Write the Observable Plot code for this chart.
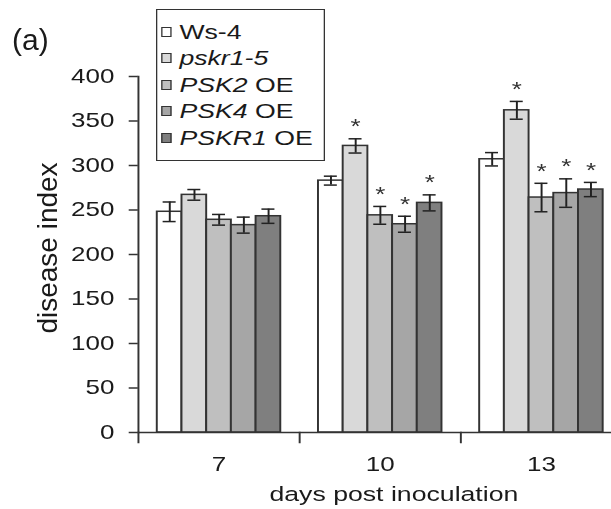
<!DOCTYPE html>
<html>
<head>
<meta charset="utf-8">
<script src="https://cdn.jsdelivr.net/npm/d3@7"></script>
<script src="https://cdn.jsdelivr.net/npm/@observablehq/plot@0.6"></script>
<style>
  html, body { margin: 0; padding: 0; background: #fff; overflow: hidden; }
  #wrap { position: relative; width: 611px; height: 509px; overflow: hidden; background: #fff;
          font-family: "Liberation Sans", Arial, sans-serif; color: #1a1a1a; }
  #fig { position: absolute; left: 0; top: 0; width: 478px; height: 509px; transform: scaleX(1.3); transform-origin: 0 0; }
  #fig svg { position: absolute; left: 0; top: 0; overflow: visible; }
  .lbl { position: absolute; white-space: nowrap; font-size: 20.5px; line-height: 20px; }
  #legend { position: absolute; left: 120px; top: 9px; width: 130px; height: 152px; box-sizing: border-box;
            border: 1.5px solid #333; background: #fff; padding: 8.8px 0 0 3px; font-size: 20.5px; }
  .item { display: flex; align-items: center; height: 26.4px; }
  .sw { width: 8.4px; height: 10px; box-sizing: border-box; border: 1.5px solid #333; margin-right: 5.6px; flex: none; }
</style>
</head>
<body>
<div id="wrap"><div id="fig"></div></div>
<script>
const days = ["7", "10", "13"];
const series = ["Ws-4", "pskr1-5", "PSK2 OE", "PSK4 OE", "PSKR1 OE"];
const legendItalic = ["", "pskr1-5", "PSK2", "PSK4", "PSKR1"];
const legendPlain = ["Ws-4", "", " OE", " OE", " OE"];
const colors = ["#ffffff", "#d9d9d9", "#bfbfbf", "#a6a6a6", "#7f7f7f"];

const mean7 = [248, 267, 239, 233, 243];
const mean10 = [283, 322, 244, 234, 258];
const mean13 = [307, 362, 264, 269, 273];
const err7 = [11, 6, 6, 9, 8];
const err10 = [5, 8, 10, 9, 9];
const err13 = [7.5, 10, 16, 16, 8];
const sig7 = [false, false, false, false, false];
const sig10 = [false, true, true, true, true];
const sig13 = [false, true, true, true, true];
const yTicks = [0, 50, 100, 150, 200, 250, 300, 350, 400];

const means = [mean7, mean10, mean13];
const errs = [err7, err10, err13];
const sigs = [sig7, sig10, sig13];
const rows = [];
days.forEach((d, i) => series.forEach((s, j) => rows.push({
  day: d, series: s, mean: means[i][j], err: errs[i][j], sig: sigs[i][j]
})));

const ink = "#333";
const txt = "#1a1a1a";
const chart = Plot.plot({
  width: 478, height: 509,
  marginLeft: 105.4, marginRight: 0, marginTop: 76, marginBottom: 77,
  style: { fontFamily: '"Liberation Sans", Arial, sans-serif', fontSize: "20px", color: txt, background: "transparent", overflow: "visible" },
  fx: { domain: days, padding: 0, label: null },
  x: { domain: series, paddingInner: 0, paddingOuter: 0.75, axis: null },
  y: { domain: [0, 400], axis: null },
  color: { domain: series, range: colors },
  marks: [
    Plot.barY(rows, { fx: "day", x: "series", y: "mean", fill: "series", stroke: ink, strokeWidth: 1.5 }),
    Plot.ruleX(rows, { fx: "day", x: "series", y1: d => d.mean - d.err, y2: d => d.mean + d.err, stroke: "#222", strokeWidth: 1.5 }),
    Plot.tickY(rows, { fx: "day", x: "series", y: d => d.mean + d.err, insetLeft: 4.5, insetRight: 4.5, stroke: "#222", strokeWidth: 1.5 }),
    Plot.tickY(rows, { fx: "day", x: "series", y: d => d.mean - d.err, insetLeft: 4.5, insetRight: 4.5, stroke: "#222", strokeWidth: 1.5 }),
    Plot.text(rows.filter(d => d.sig), { fx: "day", x: "series", y: d => d.mean + d.err, text: () => "*", dy: -12, fontSize: 20, fill: ink }),
    Plot.ruleY([0], { stroke: ink, strokeWidth: 1.5 }),
    Plot.frame({ anchor: "left", facetAnchor: "left", stroke: ink, strokeWidth: 1.5 }),
    Plot.frame({ anchor: "left", insetTop: 356, insetBottom: -10, stroke: ink, strokeWidth: 1.5 }),
    Plot.axisY({ ticks: yTicks, tickSize: 7, tickPadding: 11.5, label: null, fontSize: 20, stroke: ink, strokeWidth: 1.5, fill: txt }),
    Plot.axisFx({ anchor: "bottom", tickSize: 0, tickPadding: 24, label: null, fontSize: 20, fill: txt })
  ]
});

const wrap = document.getElementById("wrap");
const fig = document.getElementById("fig");
fig.appendChild(chart);

function addLabel(parent, text, left, top, extra) {
  const el = document.createElement("div");
  el.className = "lbl";
  el.textContent = text;
  el.style.left = left + "px";
  el.style.top = top + "px";
  if (extra) Object.assign(el.style, extra);
  parent.appendChild(el);
  return el;
}
addLabel(fig, "days post inoculation", 303, 484.4, { transform: "translateX(-50%)" });
addLabel(wrap, "(a)", 12, 24.6, { fontSize: "30px", lineHeight: "30px" });
addLabel(wrap, "disease index", 48, 248, { fontSize: "28px", lineHeight: "28px", transform: "translate(-50%, -50%) rotate(-90deg)" });

const legend = document.createElement("div");
legend.id = "legend";
series.forEach((s, i) => {
  const item = document.createElement("div");
  item.className = "item";
  const sw = document.createElement("span");
  sw.className = "sw";
  sw.style.background = colors[i];
  item.appendChild(sw);
  const t = document.createElement("span");
  if (legendItalic[i]) {
    const it = document.createElement("i");
    it.textContent = legendItalic[i];
    t.appendChild(it);
  }
  if (legendPlain[i]) t.appendChild(document.createTextNode(legendPlain[i]));
  t.style.whiteSpace = "pre";
  item.appendChild(t);
  legend.appendChild(item);
});
fig.appendChild(legend);
</script>
</body>
</html>
